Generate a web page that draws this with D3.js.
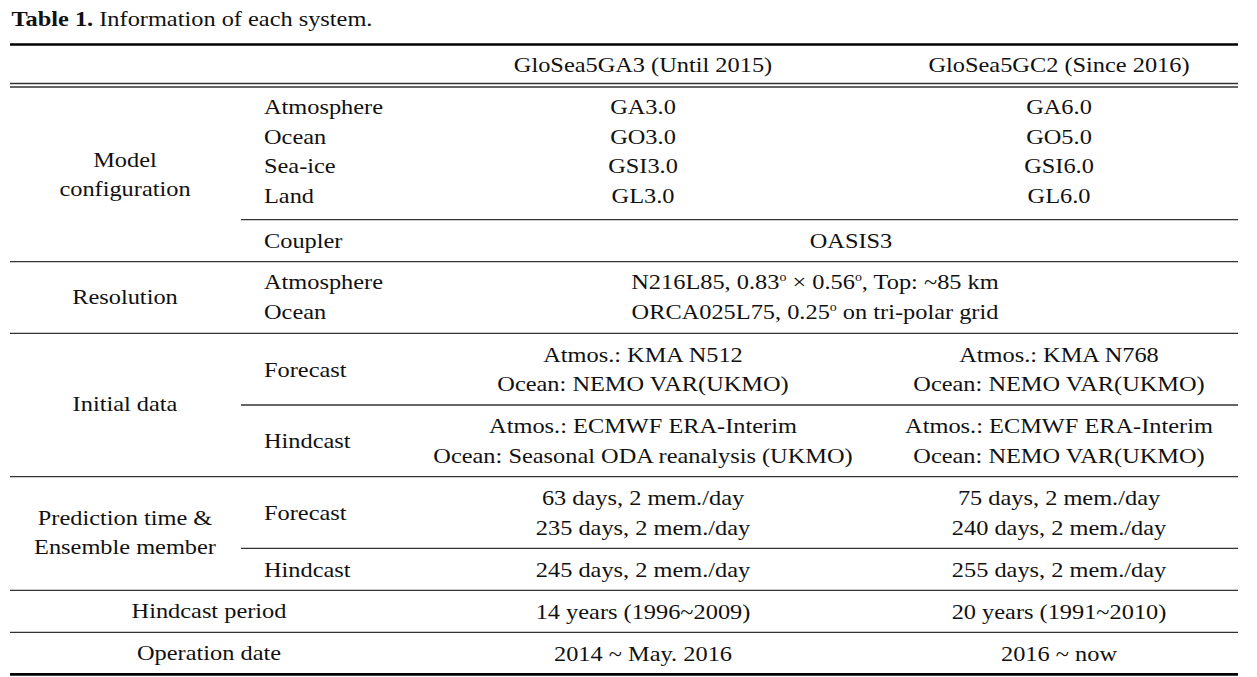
<!DOCTYPE html>
<html>
<head>
<meta charset="utf-8">
<style>
  body { margin: 0; background: #fff; }
  text { font-family: "Liberation Serif", "Times New Roman", serif; fill: #111; }
</style>
</head>
<body>
<div id="table-container"></div>

<script src="https://d3js.org/d3.v7.min.js"></script>
<script>
// table contents
const titleBold = "Table 1.";
const titleText = " Information of each system.";
const headers = ["GloSea5GA3 (Until 2015)", "GloSea5GC2 (Since 2016)"];
const sectionNames = [["Model", "configuration"], ["Resolution"], ["Initial data"],
  ["Prediction time &", "Ensemble member"], ["Hindcast period"], ["Operation date"]];
// one entry per table row (rows separated by a rule)
const rowSection = [0, 0, 1, 2, 2, 3, 3, 4, 5];
const subLabels = [["Atmosphere", "Ocean", "Sea-ice", "Land"], ["Coupler"], ["Atmosphere", "Ocean"],
  ["Forecast"], ["Hindcast"], ["Forecast"], ["Hindcast"], [], []];
const ga3Cells = [["GA3.0", "GO3.0", "GSI3.0", "GL3.0"], [], [],
  ["Atmos.: KMA N512", "Ocean: NEMO VAR(UKMO)"],
  ["Atmos.: ECMWF ERA-Interim", "Ocean: Seasonal ODA reanalysis (UKMO)"],
  ["63 days, 2 mem./day", "235 days, 2 mem./day"], ["245 days, 2 mem./day"],
  ["14 years (1996~2009)"], ["2014 ~ May. 2016"]];
const gc2Cells = [["GA6.0", "GO5.0", "GSI6.0", "GL6.0"], [], [],
  ["Atmos.: KMA N768", "Ocean: NEMO VAR(UKMO)"],
  ["Atmos.: ECMWF ERA-Interim", "Ocean: NEMO VAR(UKMO)"],
  ["75 days, 2 mem./day", "240 days, 2 mem./day"], ["255 days, 2 mem./day"],
  ["20 years (1991~2010)"], ["2016 ~ now"]];
const sharedCells = [[], ["OASIS3"],
  ["N216L85, 0.83° × 0.56°, Top: ~85 km", "ORCA025L75, 0.25° on tri-polar grid"],
  [], [], [], [], [], []];
// rule below each row: "part" starts at the sub-label column
const ruleAfter = ["part", "full", "full", "part", "full", "part", "full", "full", "bottom"];

// layout
const width = 1257, height = 677;
const fontSize = 21, stretch = 1.16;
const lineH = 29.7, pad = 6.15;
const rowShift = [-3, 0, -1, 0, 0, 0, 0, 0, 0];
const sharedX = [815, 851, 815, 815, 815, 815, 815, 815, 815];
const xLeft = 10, xRight = 1238, xSub = 241;
const colX = { section: 125, sub: 264, ga3: 643, gc2: 1059, wide: 209 };
const topRule = 44.5, dblRule = [83.5, 87], bodyTop = 88.5;

const svg = d3.select("#table-container").append("svg")
  .attr("width", width)
  .attr("height", height)
  .style("background-color", "#fff");

const nLines = rowSection.map((s, i) =>
  Math.max(1, subLabels[i].length, ga3Cells[i].length, gc2Cells[i].length, sharedCells[i].length));
const rowH = nLines.map(n => n * lineH + 2 * pad);
const rowBottom = Array.from(d3.cumsum(rowH), v => v + bodyTop);
const rowTop = rowBottom.map((b, i) => b - rowH[i]);

function addText(g, str, x, y, anchor) {
  const t = g.append("text")
    .attr("transform", `translate(${x},${y}) scale(${stretch},1)`)
    .attr("dy", "0.35em")
    .attr("text-anchor", anchor)
    .style("font-size", fontSize + "px");
  // degree marks are set as small raised "o"
  str.split("°").forEach((part, k) => {
    if (k > 0) t.append("tspan").attr("dy", -8).style("font-size", "12px").text("o");
    t.append("tspan").attr("dy", k > 0 ? 8 : null).text(part);
  });
  return t;
}

// cell lines centred vertically in a span
function addLines(g, lines, x, top, bottom, anchor, step, shift) {
  const mid = (top + bottom) / 2 + (shift || 0);
  lines.forEach((s, k) => addText(g, s, x, mid + (k - (lines.length - 1) / 2) * step, anchor));
}

// title
svg.append("text")
  .attr("transform", `translate(11.5,26) scale(${stretch},1)`)
  .style("font-size", fontSize + "px")
  .call(t => t.append("tspan").style("font-weight", "bold").text(titleBold))
  .call(t => t.append("tspan").text(titleText));

// rules
const rules = svg.append("g");
rules.append("line").attr("x1", xLeft).attr("x2", xRight)
  .attr("y1", topRule).attr("y2", topRule).attr("stroke", "#000").attr("stroke-width", 2.6);
dblRule.forEach(y => rules.append("line").attr("x1", xLeft).attr("x2", xRight)
  .attr("y1", y).attr("y2", y).attr("stroke", "#333").attr("stroke-width", 1.3));
rowBottom.forEach((y, i) => {
  const kind = ruleAfter[i];
  rules.append("line")
    .attr("x1", kind === "part" ? xSub : xLeft).attr("x2", xRight)
    .attr("y1", y).attr("y2", y)
    .attr("stroke", kind === "bottom" ? "#000" : "#333")
    .attr("stroke-width", kind === "bottom" ? 2.6 : 1.3);
});

const body = svg.append("g");

// header
headers.forEach((h, j) => addText(body, h, j === 0 ? colX.ga3 : colX.gc2, (topRule + dblRule[0]) / 2 + 1, "middle"));

// section labels
sectionNames.forEach((lines, s) => {
  const rows = d3.range(rowSection.length).filter(i => rowSection[i] === s);
  const top = rowTop[rows[0]], bottom = rowBottom[rows[rows.length - 1]];
  const hasSub = rows.some(i => subLabels[i].length > 0);
  addLines(body, lines, hasSub ? colX.section : colX.wide, top, bottom, "middle", 29, -1);
});

// row cells
rowSection.forEach((s, i) => {
  const top = rowTop[i], bottom = rowBottom[i];
  const step = lineH;
  addLines(body, subLabels[i], colX.sub, top, bottom, "start", step, rowShift[i]);
  addLines(body, ga3Cells[i], colX.ga3, top, bottom, "middle", step, rowShift[i]);
  addLines(body, gc2Cells[i], colX.gc2, top, bottom, "middle", step, rowShift[i]);
  addLines(body, sharedCells[i], sharedX[i], top, bottom, "middle", step, rowShift[i]);
});
</script>
</body>
</html>
